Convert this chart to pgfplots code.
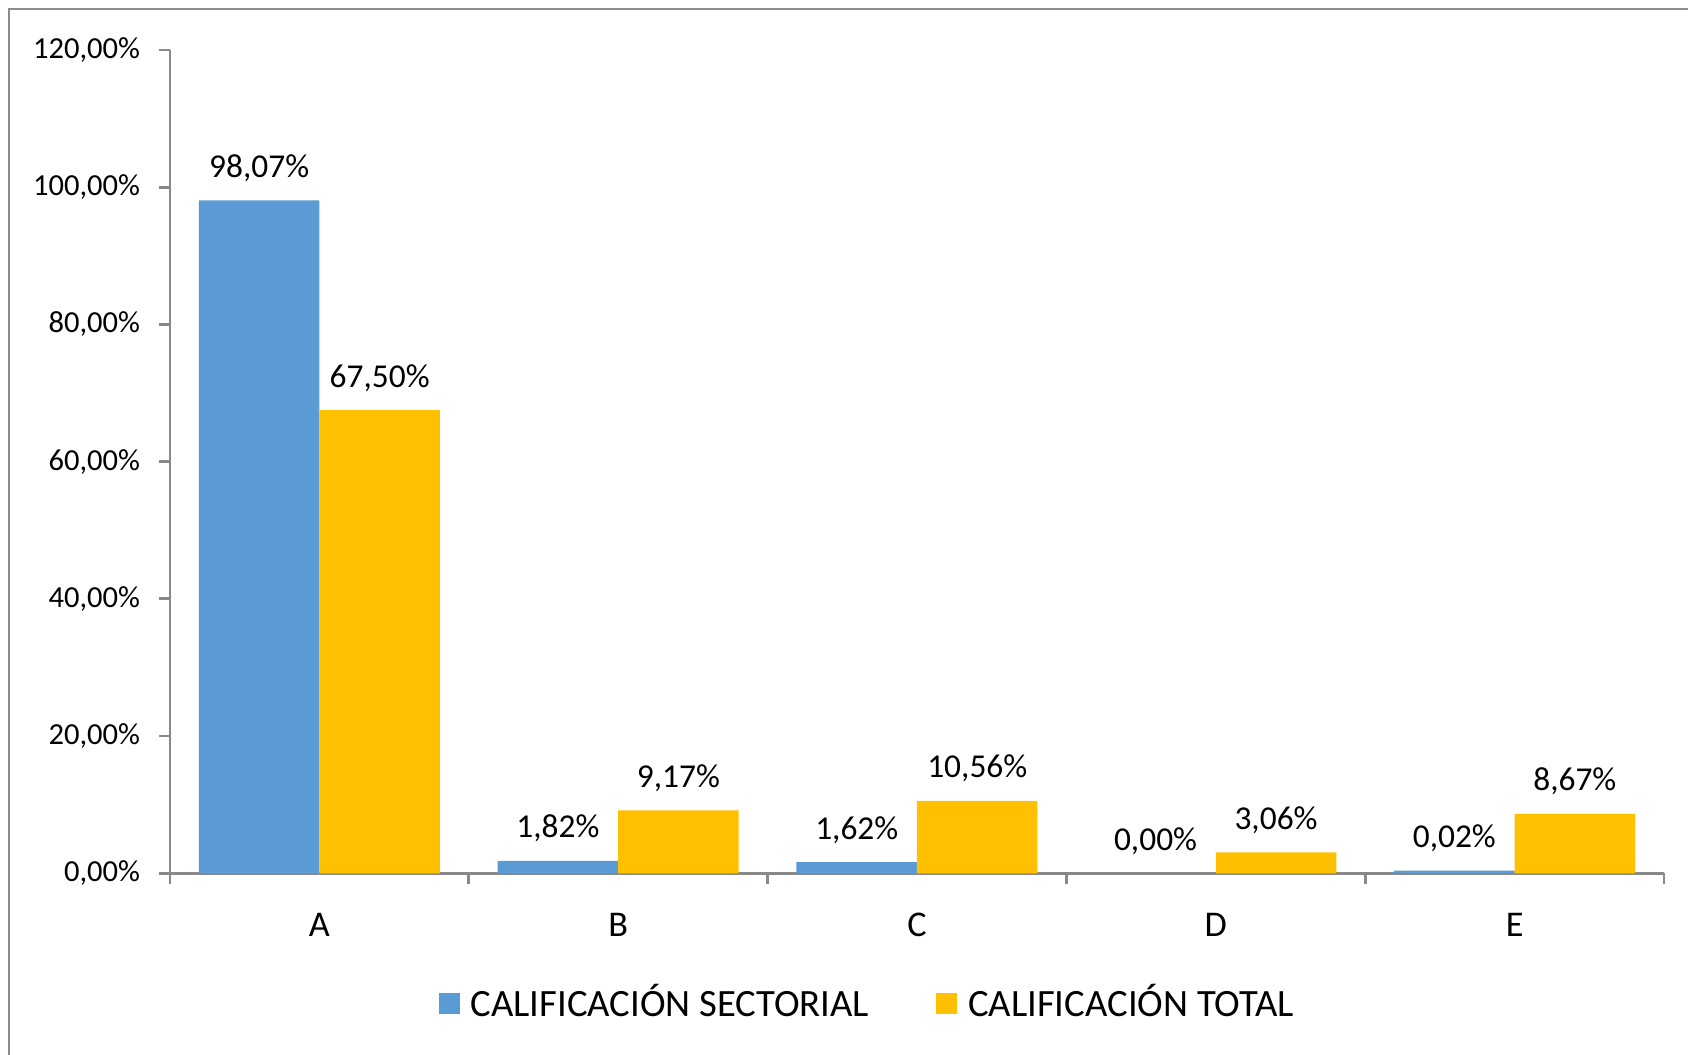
\documentclass[border=0pt]{standalone}
\usepackage{fontspec}
\setmainfont{Carlito}
\usepackage{pgfplots}
\pgfplotsset{compat=1.18}
\definecolor{serA}{HTML}{5B9BD5}
\definecolor{serB}{HTML}{FFC000}
\definecolor{axisgray}{HTML}{898989}
\definecolor{framegray}{HTML}{8C8C8C}
\begin{document}
\begin{tikzpicture}[x=1mm,y=1mm]
\draw[framegray, line width=0.7pt] (0.9,-10) -- (0.9,104.6) -- (180,104.6);
\begin{axis}[
  at={(17.0mm,18.17mm)}, anchor=south west,
  scale only axis, width=149.4mm, height=82.33mm,
  xmin=-0.5, xmax=4.5, ymin=0, ymax=120,
  clip=false,
  axis lines*=left,
  axis line style={draw=axisgray, line width=0.8pt, -},
  tick align=outside,
  major tick length=0pt,
  minor tick length=1.1mm,
  tick style={draw=axisgray, line width=0.8pt},
  xtick={0,1,2,3,4},
  xticklabels={A,B,C,D,E},
  minor xtick={-0.5,0.5,1.5,2.5,3.5,4.5},
  ytick={0,20,40,60,80,100,120},
  minor ytick={0,20,40,60,80,100,120},
  yticklabels={{0,00\%},{20,00\%},{40,00\%},{60,00\%},{80,00\%},{100,00\%},{120,00\%}},
  yticklabel style={inner sep=0pt, xshift=-2.93mm, font=\fontsize{8.7}{10}\selectfont},
  xticklabel style={inner sep=0pt, yshift=-3.9mm, font=\fontsize{10.3}{12}\selectfont},
  ybar, bar width=12.05mm,
  point meta=explicit symbolic,
  nodes near coords,
  every node near coord/.append style={font=\fontsize{9.5}{11}\selectfont, anchor=base, inner sep=0pt, yshift=2.3mm, text=black},
  legend columns=2,
  legend style={at={(axis description cs:0.1794,-0.158)}, anchor=west, draw=none, fill=none,
    font=\fontsize{11}{13}\selectfont, inner sep=0pt,
    nodes={inner sep=0pt},
    /tikz/every odd column/.append style={column sep=1.1mm},
    /tikz/every even column/.append style={column sep=6.7mm}},
  legend image code/.code={\fill[#1] (0mm,-1.05mm) rectangle (2.1mm,1.05mm);},
]
\addplot[fill=serA, draw=none, bar shift=-6.025mm] coordinates {
  (0,98.07) [98,07\%]
  (1,1.82) [1,82\%]
  (2,1.62) [1,62\%]
  (3,0.00) [0,00\%]
  (4,0.40) [0,02\%]
};
\addplot[fill=serB, draw=none, bar shift=6.025mm] coordinates {
  (0,67.50) [67,50\%]
  (1,9.17) [9,17\%]
  (2,10.56) [10,56\%]
  (3,3.06) [3,06\%]
  (4,8.67) [8,67\%]
};
\legend{CALIFICACIÓN SECTORIAL, CALIFICACIÓN TOTAL}
\end{axis}
\pgfresetboundingbox
\path[use as bounding box] (0,0) rectangle (168.8,105.5);
\end{tikzpicture}
\end{document}
